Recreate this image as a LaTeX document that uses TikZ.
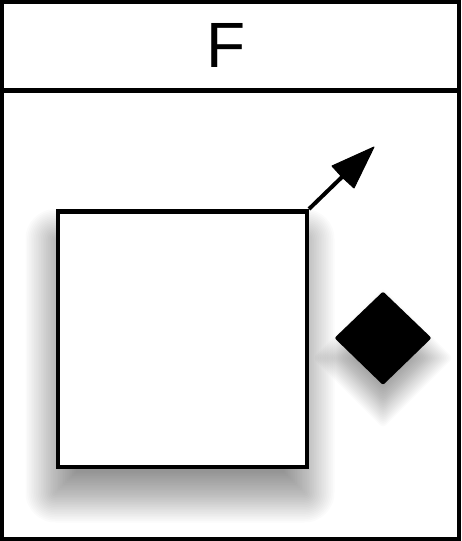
\documentclass[tikz,border=0pt]{standalone}
\usepackage{fontspec}
\setmainfont{Liberation Sans}
\usetikzlibrary{arrows.meta}
\tikzset{
  frameline/.style={line width=4pt, draw=black},
  shadowlayer/.style={fill=black, fill opacity=0.014, draw=none},
  arrowline/.style={line width=4pt},
  headfill/.style={fill=black, draw=black, line width=1pt, line join=round},
}
\begin{document}
\begin{tikzpicture}[x=1pt,y=-1pt]
\useasboundingbox (0,0) rectangle (461,541);
\fill[white] (0,0) rectangle (461,541);
% frame
\draw[frameline] (2,2) rectangle (459,539);
\draw[line width=5pt] (2,90.5) -- (459,90.5);
\node[inner sep=0pt, font=\fontsize{64}{64}\selectfont] (title) at (226,45) {F};
% square shadow
\foreach \i in {0,...,29}{
  \pgfmathsetmacro\e{30-50*\i/29}
  \pgfmathsetmacro\rc{max(\e,0.5)}
  \fill[shadowlayer, rounded corners=\rc pt] (55.5-\e,209+30-\e) rectangle (304.5+\e,464.5+28+\e);
}
% diamond shadow
\foreach \i in {0,...,24}{
  \pgfmathsetmacro\h{47.5+1.414*(16-30*\i/24)}
  \fill[shadowlayer, rounded corners=4pt] (383,338+20-\h) -- (383+\h,338+20) -- (383,338+20+\h) -- (383-\h,338+20) -- cycle;
}
% square
\node[draw=black, line width=4.5pt, fill=white, minimum width=249pt, minimum height=255.5pt, inner sep=0pt, anchor=north west] (sq) at (55.5,209) {};
% diamond
\fill[black, rounded corners=2pt] (383,291.5) -- (431.5,338) -- (383,385) -- (334.5,338) -- cycle;
% arrow
\coordinate (tip) at (374,147);
\coordinate (hbase) at (342,177);
\coordinate (hl) at (332,166);
\coordinate (hr) at (354,188);
\draw[arrowline] (sq.north east) -- (hbase);
\filldraw[headfill] (tip) -- (hl) -- (hbase) -- (hr) -- cycle;
\end{tikzpicture}
\end{document}
